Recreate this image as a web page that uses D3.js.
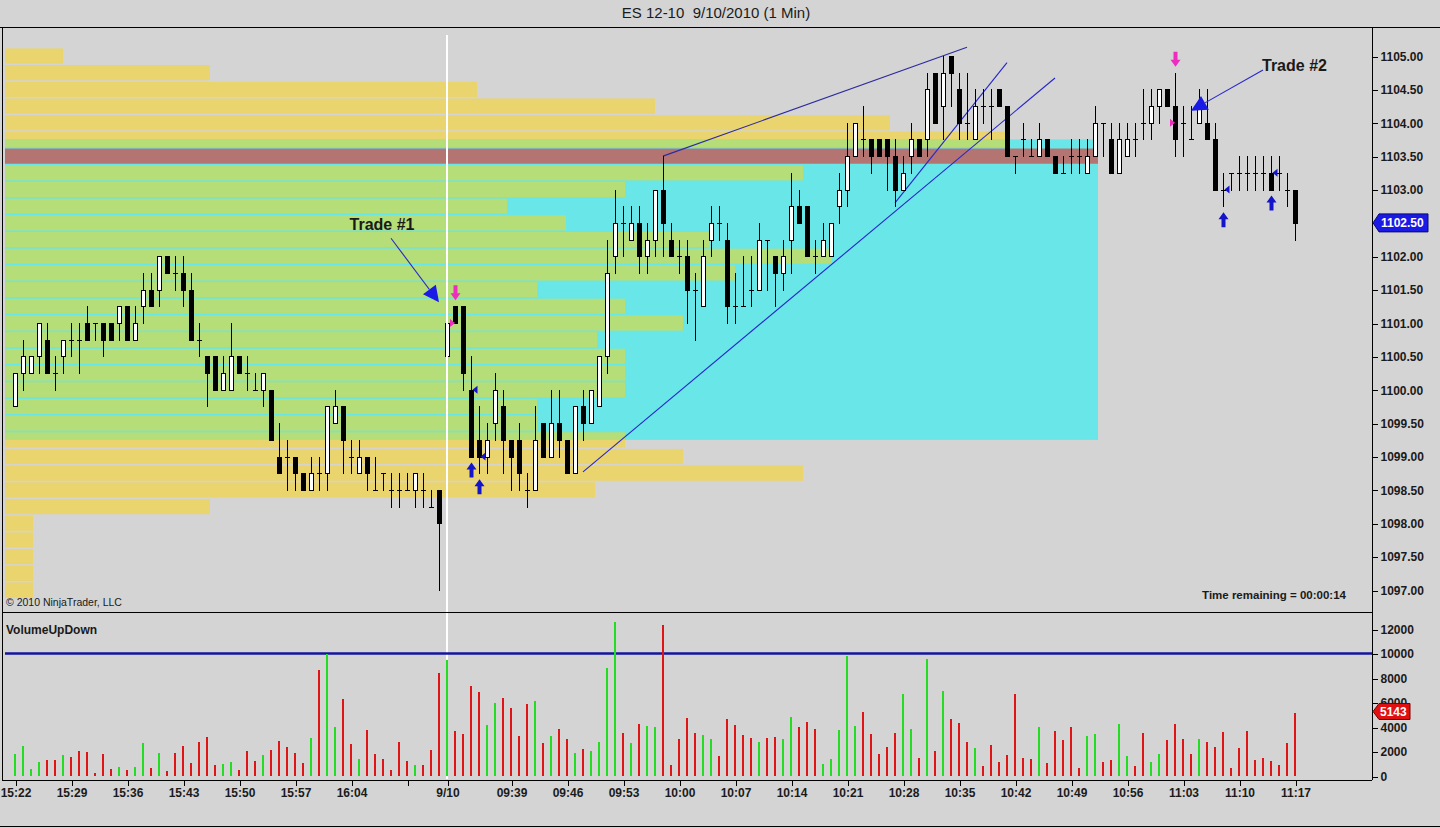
<!DOCTYPE html>
<html><head><meta charset="utf-8">
<script src="https://cdn.jsdelivr.net/npm/d3@7"></script>
<style>
html,body{margin:0;padding:0;background:#d4d4d4;overflow:hidden}
svg{display:block;font-family:Arial,"Liberation Sans",sans-serif}
</style></head><body>
<svg id="c" width="1440" height="828"></svg>
<script>
// ---------- DATA ----------
function minuteRange(start, end){
  const out=[]; let [h,m]=start.split(':').map(Number); const [eh,em]=end.split(':').map(Number);
  while(h<eh||(h===eh&&m<=em)){out.push(String(h).padStart(2,'0')+':'+String(m).padStart(2,'0')); m++; if(m===60){m=0;h++;}}
  return out;
}
const barTimes = minuteRange('15:22','16:15').concat(minuteRange('09:31','11:17'));

const open = [1099.75,1100.25,1100.25,1100.5,1100.75,1100.25,1100.5,1100.75,1100.75,1101.0,
1101.0,1101.0,1101.0,1101.0,1101.25,1100.75,1101.25,1101.5,1101.5,1102.0,
1101.75,1101.75,1101.5,1100.75,1100.5,1100.5,1100.0,1100.0,1100.5,1100.25,
1100.0,1100.0,1100.0,1099.0,1099.0,1099.0,1098.75,1098.5,1098.75,1098.75,
1099.5,1099.75,1099.0,1098.75,1099.0,1098.5,1098.75,1098.5,1098.5,1098.5,
1098.5,1098.5,1098.25,1098.5,
1100.5,1101.25,1101.25,1100.0,1099.25,1099.0,
1099.5,1099.75,1099.25,1099.25,1098.5,1098.5,1099.5,1099.0,1099.5,1099.25,
1098.75,1099.75,1099.5,1099.75,1100.5,1102.0,1102.5,1102.25,1102.5,1102.0,
1102.25,1103.0,1102.25,1102.0,1102.0,1101.5,1101.25,1102.25,1102.5,1102.25,
1101.25,1101.25,1101.5,1101.5,1102.25,1102.0,1101.75,1102.25,1102.75,1102.75,
1102.0,1102.0,1102.0,1102.75,1103.0,1103.5,1103.75,1103.75,1103.75,1103.75,
1103.5,1103.0,1103.5,1103.75,1103.75,1104.75,1104.25,1105.0,1104.5,1104.0,
1103.75,1104.25,1104.25,1104.5,1104.25,1103.5,1103.75,1103.5,1103.5,1103.75,
1103.5,1103.25,1103.5,1103.5,1103.25,1103.5,1104.0,1103.75,1103.25,1103.5,
1103.75,1104.0,1104.0,1104.25,1104.5,1104.25,1104.0,1103.75,1104.0,1104.0,
1103.75,1103.0,1103.25,1103.25,1103.25,1103.25,1103.25,1103.25,1103.25,1103.0,1103.0];

const high = [1100.25,1100.75,1100.5,1101.0,1101.0,1100.5,1100.75,1101.0,1101.0,1101.25,
1101.0,1101.0,1101.0,1101.25,1101.25,1101.25,1101.75,1101.75,1102.0,1102.0,
1102.0,1102.0,1101.75,1101.0,1100.5,1100.5,1100.5,1101.0,1100.5,1100.5,
1100.25,1100.25,1100.0,1099.5,1099.25,1099.0,1098.75,1099.0,1099.0,1099.75,
1100.0,1099.75,1099.25,1099.25,1099.0,1099.0,1098.75,1098.75,1098.75,1098.75,
1098.75,1098.75,1098.5,1098.5,
1101.25,1101.25,1101.25,1100.5,1099.75,1099.5,
1100.25,1100.0,1099.25,1099.5,1098.75,1099.75,1099.5,1100.0,1100.0,1099.25,
1099.75,1100.0,1100.0,1100.5,1102.25,1103.0,1102.75,1102.75,1102.75,1102.5,
1103.0,1103.5,1102.5,1102.25,1102.25,1101.75,1102.25,1102.75,1102.75,1102.5,
1101.75,1102.0,1102.0,1102.5,1102.25,1102.0,1102.25,1103.25,1103.0,1102.75,
1102.25,1102.5,1102.5,1103.25,1104.0,1104.0,1104.25,1103.75,1103.75,1103.75,
1103.75,1103.5,1104.0,1103.75,1104.75,1104.75,1105.0,1105.0,1104.75,1104.75,
1104.5,1104.5,1104.5,1104.5,1104.25,1103.5,1104.0,1103.75,1104.0,1103.75,
1103.5,1103.5,1103.75,1103.75,1103.75,1104.25,1104.0,1104.0,1104.0,1104.0,
1104.0,1104.5,1104.5,1104.5,1104.5,1104.75,1104.25,1104.25,1104.5,1104.5,
1104.0,1103.25,1103.25,1103.5,1103.5,1103.5,1103.5,1103.5,1103.5,1103.25,1103.0];

const low = [1099.75,1100.0,1100.25,1100.25,1100.25,1100.0,1100.25,1100.5,1100.25,1100.75,
1100.75,1100.5,1100.75,1100.75,1100.75,1100.75,1101.0,1101.25,1101.25,1101.75,
1101.5,1101.25,1100.75,1100.5,1099.75,1100.0,1100.0,1100.0,1100.25,1100.0,
1100.0,1099.75,1099.25,1098.75,1098.5,1098.5,1098.5,1098.5,1098.5,1098.5,
1099.5,1098.75,1098.75,1098.75,1098.5,1098.5,1098.5,1098.25,1098.25,1098.5,
1098.25,1098.25,1098.25,1097.0,
1100.5,1101.0,1100.0,1099.0,1098.75,1098.75,
1099.25,1098.75,1098.5,1098.5,1098.25,1098.5,1099.0,1099.0,1099.0,1098.75,
1098.75,1099.25,1099.5,1099.75,1100.25,1101.75,1102.0,1102.25,1101.75,1101.75,
1102.0,1102.0,1102.0,1101.75,1101.0,1100.75,1101.25,1102.0,1102.25,1101.0,
1101.0,1101.25,1101.25,1101.5,1101.5,1101.25,1101.5,1101.75,1102.5,1102.0,
1101.75,1102.0,1102.0,1102.5,1102.75,1103.5,1103.5,1103.25,1103.5,1103.0,
1102.75,1103.0,1103.25,1103.5,1103.5,1104.0,1103.75,1104.25,1103.75,1103.75,
1103.75,1104.0,1103.75,1104.25,1103.5,1103.25,1103.5,1103.5,1103.5,1103.5,
1103.25,1103.25,1103.25,1103.25,1103.25,1103.5,1103.5,1103.25,1103.25,1103.5,
1103.5,1103.75,1103.75,1104.0,1104.25,1103.5,1103.5,1103.75,1104.0,1103.75,
1103.0,1102.75,1103.0,1103.0,1103.0,1103.0,1103.0,1103.0,1103.0,1102.75,1102.25];

const close = [1100.25,1100.5,1100.5,1101.0,1100.25,1100.25,1100.75,1100.75,1100.75,1100.75,
1101.0,1100.75,1100.75,1101.25,1100.75,1101.0,1101.5,1101.25,1102.0,1101.75,
1101.75,1101.5,1100.75,1100.75,1100.25,1100.0,1100.25,1100.5,1100.25,1100.25,
1100.0,1100.25,1099.25,1098.75,1099.0,1098.75,1098.5,1098.75,1098.75,1099.75,
1099.75,1099.25,1099.0,1099.0,1098.75,1098.5,1098.75,1098.5,1098.5,1098.5,
1098.75,1098.5,1098.25,1098.0,
1101.0,1101.0,1100.25,1099.0,1099.0,1099.25,
1100.0,1099.25,1099.0,1098.75,1098.5,1099.25,1099.0,1099.5,1099.25,1098.75,
1099.75,1099.5,1100.0,1100.5,1101.75,1102.5,1102.5,1102.5,1102.0,1102.25,
1103.0,1102.5,1102.0,1102.0,1101.5,1101.5,1102.0,1102.5,1102.5,1101.25,
1101.25,1101.25,1101.5,1102.25,1102.25,1101.75,1102.0,1102.75,1102.5,1102.0,
1102.0,1102.25,1102.5,1103.0,1103.5,1104.0,1103.75,1103.5,1103.5,1103.5,
1103.0,1103.25,1103.75,1103.5,1104.5,1104.0,1104.75,1104.75,1104.0,1104.0,
1104.25,1104.25,1104.25,1104.25,1103.5,1103.5,1103.75,1103.5,1103.75,1103.5,
1103.25,1103.25,1103.5,1103.5,1103.5,1104.0,1104.0,1103.25,1103.75,1103.75,
1103.75,1104.0,1104.25,1104.5,1104.25,1103.75,1104.0,1103.75,1104.25,1103.75,
1103.0,1103.0,1103.25,1103.25,1103.25,1103.25,1103.25,1103.0,1103.25,1103.0,1102.5];

const volume = [1760,2440,540,1165,1300,1300,1730,1570,2060,1950,
270,1815,570,760,515,760,2710,680,1900,430,
1840,2470,1080,2790,3170,920,975,1165,515,2060,
1250,1730,2140,2870,2385,1900,1080,3090,8670,9950,
4040,6290,2630,1410,3770,1815,1410,490,2790,1220,
890,920,2140,8400,
9460,3660,3440,7320,6830,4170,
5960,6370,5560,3250,5850,6100,2710,3250,3820,3010,
1900,2200,2060,2790,8810,12550,3520,2710,4230,4090,
4010,12360,890,3010,4720,3500,3360,3010,1650,4630,
4170,3360,3120,2790,3120,3170,3010,4820,4010,4390,
3820,1000,1410,3740,9810,4090,5200,3390,1815,2360,
3520,6670,3820,1460,9590,2060,6910,4630,4310,2790,
2280,810,2520,1165,1710,6670,1490,1410,4010,1080,
3660,2950,4010,650,3280,3440,1165,1330,4230,1650,
840,3520,1165,1815,2950,4250,3010,1815,3010,2760,
2360,3580,650,2280,3660,1330,1460,1220,890,2710,5143];

// volume profile (price rows)
const profilePrice = [1105.0,1104.75,1104.5,1104.25,1104.0,1103.75,1103.5,1103.25,1103.0,1102.75,
1102.5,1102.25,1102.0,1101.75,1101.5,1101.25,1101.0,1100.75,1100.5,1100.25,
1100.0,1099.75,1099.5,1099.25,1099.0,1098.75,1098.5,1098.25,1098.0,1097.75,
1097.5,1097.25,1097.0];
const profileVolume = [1160,4100,9440,13000,17700,20000,21860,15960,12400,10040,
11220,14100,16540,14600,10640,12400,13560,11840,12400,12400,
12400,10640,10640,12400,13560,15960,11800,4100,560,560,
560,560,560];
const valueAreaHigh = 1103.75, valueAreaLow = 1099.25, pocPrice = 1103.5;

const priceTicks = [1097,1097.5,1098,1098.5,1099,1099.5,1100,1100.5,1101,1101.5,1102,1102.5,1103,1103.5,1104,1104.5,1105];
const volumeTicks = [0,2000,4000,6000,8000,10000,12000];
const volumeAlertLevel = 10000;
const tickTimes = ["15:22","15:29","15:36","15:43","15:50","15:57","16:04","16:11","09:31","09:39","09:46","09:53","10:00","10:07","10:14","10:21","10:28","10:35","10:42","10:49","10:56","11:03","11:10","11:17"];
const tickText  = ["15:22","15:29","15:36","15:43","15:50","15:57","16:04","","9/10","09:39","09:46","09:53","10:00","10:07","10:14","10:21","10:28","10:35","10:42","10:49","10:56","11:03","11:10","11:17"];

// drawn trend lines (time, price)
const trendFrom = [["09:58",1103.5],["09:48",1098.77],["10:27",1102.80]];
const trendTo   = [["10:36",1105.13],["10:47",1104.67],["10:41",1104.90]];

// trade annotations
const annotationText = ["Trade #1","Trade #2"];
const annotationFrom = [["16:09",1102.27],["11:13",1104.79]];
const annotationTo   = [["16:15",1101.31],["11:04",1104.18]];

// executions / signals
const sellSignalBars = ["09:32","11:02"];
const coverSignalBars = ["09:34","09:35","11:08","11:14"];
const entryFillTimes = ["09:32","11:02"];
const entryFillPrices = [1101.0,1104.0];
const exitFillTimes = ["09:34","09:35","11:08","11:14"];
const exitFillPrices = [1100.0,1099.0,1103.0,1103.25];

const sessionBreak = "09:31";
const titleText = "ES 12-10  9/10/2010 (1 Min)";
const timeRemaining = "Time remaining = 00:00:14";

// ---------- LAYOUT ----------
const svg = d3.select('#c');
const L = 2, R = 1372, PT = 27, PB = 612, VB = 780;
const x = d3.scalePoint().domain(barTimes).range([15,1295]);
const y = d3.scaleLinear().domain([1097,1105]).range([590,56]);
const yv = d3.scaleLinear().domain([0,12000]).range([776,629]);
const pw = d3.scaleLinear().domain([0, d3.max(profileVolume)]).range([0,1093]);
const tick = Math.abs(y(0.25)-y(0));

const C = {bg:'#d4d4d4', yellow:'#e9d46e', green:'#b5dd78', cyan:'#68e6e8', poc:'#b37472',
  up:'#22dd22', down:'#e01414', blue:'#1414c8', pink:'#ee2cc0', line:'#2626cc', txt:'#1a1a1a'};

svg.append('rect').attr('width',1440).attr('height',828).attr('fill',C.bg);
const defs = svg.append('defs');
defs.append('clipPath').attr('id','cp').append('rect').attr('x',L).attr('y',PT+1).attr('width',R-L).attr('height',PB-PT-1);
defs.append('clipPath').attr('id','cv').append('rect').attr('x',L).attr('y',PB+1).attr('width',R-L).attr('height',VB-PB-1);

// title
svg.append('text').attr('x',716).attr('y',18).attr('text-anchor','middle').attr('font-size',15)
  .attr('fill',C.txt).style('white-space','pre').text(titleText);

const gp = svg.append('g').attr('clip-path','url(#cp)');

// value area background
const px0 = 5;
gp.append('rect').attr('x',px0).attr('y',y(valueAreaHigh)).attr('width',pw(d3.max(profileVolume)))
  .attr('height',y(valueAreaLow)-y(valueAreaHigh)).attr('fill',C.cyan);

// profile rows
const vaTop = y(valueAreaHigh), vaBot = y(valueAreaLow);
profilePrice.forEach((p,i)=>{
  const top = y(p+0.125)+0.75, bot = y(p-0.125)-0.75, w = pw(profileVolume[i]);
  if(p===pocPrice){ gp.append('rect').attr('x',px0).attr('y',top).attr('width',w).attr('height',bot-top).attr('fill',C.poc); return; }
  const segs = [];
  if(top<vaTop) segs.push([top,Math.min(bot,vaTop),C.yellow]);
  const gt=Math.max(top,vaTop), gb=Math.min(bot,vaBot); if(gb>gt) segs.push([gt,gb,C.green]);
  if(bot>vaBot) segs.push([Math.max(top,vaBot),bot,C.yellow]);
  segs.forEach(s=>gp.append('rect').attr('x',px0).attr('y',s[0]).attr('width',w).attr('height',s[1]-s[0]).attr('fill',s[2]));
});

// session break line
const sbx = Math.round(x(sessionBreak));
svg.append('line').attr('x1',sbx).attr('x2',sbx).attr('y1',35).attr('y2',VB-1).attr('stroke','#fff').attr('stroke-width',2);

// trend lines
trendFrom.forEach((f,i)=>{
  gp.append('line').attr('x1',x(f[0])).attr('y1',y(f[1])).attr('x2',x(trendTo[i][0])).attr('y2',y(trendTo[i][1]))
    .attr('stroke', i===0?'#2d2a9e':C.line).attr('stroke-width',1.1);
});

// candles
const bars = barTimes.map((t,i)=>({t,o:open[i],h:high[i],l:low[i],c:close[i],v:volume[i]}));
const cg = gp.append('g').attr('shape-rendering','crispEdges');
bars.forEach(b=>{
  const cx = Math.round(x(b.t));
  const yh = Math.round(y(b.h)), yl = Math.round(y(b.l));
  if(yl>yh) cg.append('line').attr('x1',cx+0.5).attr('x2',cx+0.5).attr('y1',yh).attr('y2',yl+1).attr('stroke','#000');
  if(b.o===b.c){
    const yy = Math.round(y(b.o))+0.5;
    cg.append('line').attr('x1',cx-2).attr('x2',cx+3).attr('y1',yy).attr('y2',yy).attr('stroke','#000');
  } else {
    const yt = Math.round(y(Math.max(b.o,b.c))), yb = Math.round(y(Math.min(b.o,b.c)));
    cg.append('rect').attr('x',cx-1.5).attr('y',yt+0.5).attr('width',4).attr('height',yb-yt)
      .attr('fill', b.c>b.o?'#fff':'#000').attr('stroke','#000');
  }
});

// annotations
annotationText.forEach((txt,i)=>{
  const x1=x(annotationFrom[i][0]), y1=y(annotationFrom[i][1]);
  const x2=x(annotationTo[i][0]), y2=y(annotationTo[i][1]);
  const dx=x2-x1, dy=y2-y1, len=Math.hypot(dx,dy), ux=dx/len, uy=dy/len;
  const bx=x2-16*ux, by=y2-16*uy, nx=-uy*8, ny=ux*8;
  gp.append('line').attr('x1',x1).attr('y1',y1).attr('x2',bx).attr('y2',by).attr('stroke',C.line).attr('stroke-width',1.1);
  gp.append('path').attr('d',`M${x2},${y2}L${bx+nx},${by+ny}L${bx-nx},${by-ny}Z`).attr('fill','#1a1ae6');
  const t = svg.append('text').attr('font-size',16).attr('font-weight','bold').attr('fill',C.txt).text(txt);
  if(i===0) t.attr('x',x1-9).attr('y',y1-8).attr('text-anchor','middle');
  else t.attr('x',x1-1).attr('y',y1+1).attr('text-anchor','start');
});

// signal arrows
function arrow(cx, tipY, dir, color){
  const s = dir; // -1 up arrow (tip at top), 1 down arrow (tip at bottom)
  const hy = tipY - s*7, ey = tipY - s*15;
  const d = `M${cx},${tipY}L${cx+5},${hy}L${cx+2},${hy}L${cx+2},${ey}L${cx-2},${ey}L${cx-2},${hy}L${cx-5},${hy}Z`;
  gp.append('path').attr('d',d).attr('fill',color);
}
sellSignalBars.forEach(t=>{ const i=barTimes.indexOf(t); arrow(x(t)+0.5, y(high[i])-6, 1, C.pink); });
coverSignalBars.forEach(t=>{ const i=barTimes.indexOf(t); arrow(x(t)+0.5, y(low[i])+6, -1, C.blue); });
entryFillTimes.forEach((t,i)=>{ const cx=x(t), yy=y(entryFillPrices[i]);
  gp.append('path').attr('d',`M${cx-5},${yy-4}L${cx},${yy}L${cx-5},${yy+4}Z`).attr('fill',C.pink); });
exitFillTimes.forEach((t,i)=>{ const cx=x(t)+1.5, yy=y(exitFillPrices[i]);
  gp.append('path').attr('d',`M${cx},${yy}L${cx+5},${yy-4}L${cx+5},${yy+4}Z`).attr('fill',C.blue); });

// texts in price panel
svg.append('text').attr('x',6).attr('y',606).attr('font-size',10.5).attr('fill',C.txt).text('\u00a9 2010 NinjaTrader, LLC');
svg.append('text').attr('x',1346).attr('y',599).attr('text-anchor','end').attr('font-size',11.5).attr('font-weight','bold').attr('fill',C.txt).text(timeRemaining);

// volume panel
const gv = svg.append('g').attr('clip-path','url(#cv)');
gv.append('line').attr('x1',5).attr('x2',R).attr('y1',yv(volumeAlertLevel)).attr('y2',yv(volumeAlertLevel)).attr('stroke','#1414a0').attr('stroke-width',2.5);
gv.append('g').attr('shape-rendering','crispEdges').selectAll('rect').data(bars).join('rect')
  .attr('x',d=>Math.round(x(d.t))-1).attr('width',2)
  .attr('y',d=>yv(d.v)).attr('height',d=>yv(0)-yv(d.v))
  .attr('fill',d=>d.c>d.o?C.up:C.down);
svg.append('text').attr('x',6).attr('y',634).attr('font-size',12).attr('font-weight','bold').attr('fill',C.txt).text('VolumeUpDown');

// frames
const fr = svg.append('g').attr('stroke','#000').attr('shape-rendering','crispEdges');
fr.append('line').attr('x1',0).attr('x2',1440).attr('y1',PT+0.5).attr('y2',PT+0.5);
fr.append('line').attr('x1',L).attr('x2',R).attr('y1',PB+0.5).attr('y2',PB+0.5);
fr.append('line').attr('x1',L).attr('x2',R).attr('y1',VB+0.5).attr('y2',VB+0.5);
fr.append('line').attr('x1',R+0.5).attr('x2',R+0.5).attr('y1',PT).attr('y2',VB);
fr.append('line').attr('x1',L+0.5).attr('x2',L+0.5).attr('y1',PT).attr('y2',VB);
fr.append('line').attr('x1',0).attr('x2',1440).attr('y1',826.5).attr('y2',826.5);

// axes
function styleAxis(g){
  g.select('.domain').remove();
  g.selectAll('line').attr('stroke','#000').attr('shape-rendering','crispEdges');
  g.selectAll('text').attr('font-size',12).attr('font-weight','bold').attr('fill',C.txt)
    .attr('font-family','Arial, "Liberation Sans", sans-serif');
}
svg.append('g').attr('transform',`translate(${R+0.5},0.5)`)
  .call(d3.axisRight(y).tickValues(priceTicks).tickFormat(d3.format('.2f')).tickSize(5).tickPadding(3)).call(styleAxis);
svg.append('g').attr('transform',`translate(${R+0.5},0.5)`)
  .call(d3.axisRight(yv).tickValues(volumeTicks).tickFormat(d3.format('d')).tickSize(5).tickPadding(3)).call(styleAxis);
svg.append('g').attr('transform',`translate(0.5,${VB+0.5})`)
  .call(d3.axisBottom(x).tickValues(tickTimes).tickFormat((d,i)=>tickText[i]).tickSize(5).tickPadding(3)).call(styleAxis);

// last price marker
const lastP = close[close.length-1], ly = y(lastP);
svg.append('path').attr('d',`M${R+1},${ly}L${R+7},${ly-9}L1428,${ly-9}L1428,${ly+9}L${R+7},${ly+9}Z`).attr('fill','#1a1ae6').attr('stroke','#0a0a70');
svg.append('text').attr('x',1381).attr('y',ly+4.5).attr('font-size',12).attr('font-weight','bold').attr('fill','#fff').text(d3.format('.2f')(lastP));
const lastV = volume[volume.length-1], lvy = yv(lastV)-1.5;
svg.append('path').attr('d',`M${R+1},${lvy}L${R+7},${lvy-8}L1410,${lvy-8}L1410,${lvy+8}L${R+7},${lvy+8}Z`).attr('fill','#e01010').attr('stroke','#700');
svg.append('text').attr('x',1380).attr('y',lvy+4.5).attr('font-size',12).attr('font-weight','bold').attr('fill','#fff').text(lastV);
</script>
</body></html>
